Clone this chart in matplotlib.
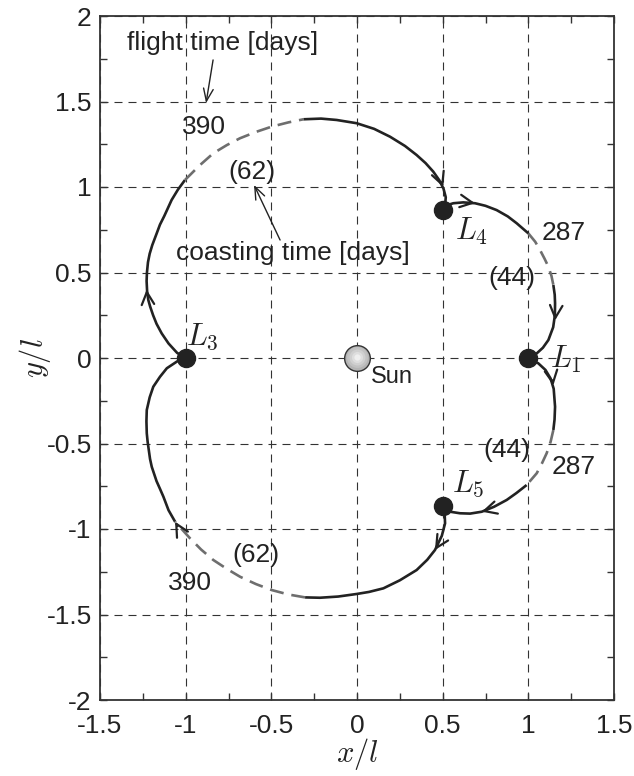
import numpy as np
import matplotlib
matplotlib.use('Agg')
import matplotlib.pyplot as plt

# ---------------- data ----------------
x_ticks = [-1.5, -1.0, -0.5, 0.0, 0.5, 1.0, 1.5]
x_tick_labels = ['-1.5', '-1', '-0.5', '0', '0.5', '1', '1.5']
y_ticks = [-2.0, -1.5, -1.0, -0.5, 0.0, 0.5, 1.0, 1.5, 2.0]
y_tick_labels = ['-2', '-1.5', '-1', '-0.5', '0', '0.5', '1', '1.5', '2']

lagrange_names = ['$L_1$', '$L_3$', '$L_4$', '$L_5$']
lagrange_x = [1.0, -1.0, 0.5, 0.5]
lagrange_y = [0.0, 0.0, np.sqrt(3) / 2, -np.sqrt(3) / 2]
lagrange_label_x = [1.125, -1.0, 0.572, 0.553]
lagrange_label_y = [-0.06, 0.075, 0.69, -0.785]

sun_xy = (0.0, 0.0)

# leg L3 -> L4 (thrust, coast, thrust)
legA_thrust1 = [(-1.0, 0.0), (-1.05, 0.03), (-1.10, 0.085), (-1.14, 0.144), (-1.17, 0.2),
                (-1.19, 0.25), (-1.207, 0.3), (-1.218, 0.339), (-1.225, 0.39), (-1.228, 0.45),
                (-1.226, 0.5), (-1.22, 0.56), (-1.21, 0.61), (-1.195, 0.66), (-1.169, 0.729),
                (-1.15, 0.78), (-1.125, 0.83), (-1.082, 0.924), (-1.045, 0.985), (-1.004, 1.041)]
legA_coast = [(-1.004, 1.041), (-0.92, 1.125), (-0.839, 1.197), (-0.76, 1.245), (-0.683, 1.285),
              (-0.59, 1.322), (-0.498, 1.353), (-0.40, 1.378), (-0.313, 1.396)]
legA_thrust2 = [(-0.313, 1.396), (-0.21, 1.40), (-0.119, 1.392), (-0.002, 1.373), (0.10, 1.34),
                (0.193, 1.294), (0.28, 1.24), (0.348, 1.187), (0.40, 1.14), (0.445, 1.09),
                (0.48, 1.04), (0.505, 0.99), (0.518, 0.94), (0.515, 0.90), (0.50, 0.866)]

# leg L4 -> L1
legB_thrust1 = [(0.5, 0.866), (0.53, 0.895), (0.562, 0.905), (0.62, 0.91), (0.689, 0.905),
                (0.75, 0.89), (0.815, 0.865), (0.88, 0.828), (0.932, 0.788), (1.0, 0.729)]
legB_coast = [(1.0, 0.729), (1.04, 0.68), (1.068, 0.632), (1.095, 0.58), (1.117, 0.534),
              (1.135, 0.48), (1.146, 0.427)]
legB_thrust2 = [(1.146, 0.427), (1.154, 0.37), (1.156, 0.32), (1.155, 0.25), (1.145, 0.18),
                (1.117, 0.105), (1.085, 0.06), (1.049, 0.027), (1.0, 0.0)]

# leg L1 -> L5
legC_thrust1 = [(1.0, 0.0), (1.058, -0.031), (1.10, -0.07), (1.13, -0.12), (1.148, -0.18),
                (1.156, -0.285), (1.153, -0.36), (1.146, -0.421)]
legC_coast = [(1.146, -0.421), (1.13, -0.49), (1.107, -0.557), (1.08, -0.615), (1.049, -0.674),
              (0.99, -0.743)]
legC_thrust2 = [(0.99, -0.743), (0.93, -0.79), (0.874, -0.830), (0.80, -0.87), (0.728, -0.899),
                (0.66, -0.91), (0.601, -0.908), (0.55, -0.90), (0.5, -0.866)]

# leg L5 -> L3
legD_thrust1 = [(0.5, -0.866), (0.512, -0.92), (0.514, -0.967), (0.495, -1.04), (0.455, -1.123),
                (0.41, -1.18), (0.348, -1.240), (0.25, -1.30), (0.154, -1.347), (0.07, -1.368),
                (-0.002, -1.380), (-0.11, -1.395), (-0.216, -1.402), (-0.303, -1.40)]
legD_coast = [(-0.303, -1.40), (-0.40, -1.383), (-0.498, -1.357), (-0.59, -1.322), (-0.683, -1.279),
              (-0.76, -1.233), (-0.839, -1.181), (-0.91, -1.12), (-0.975, -1.054), (-1.062, -0.957)]
legD_thrust2 = [(-1.062, -0.957), (-1.10, -0.89), (-1.13, -0.811), (-1.15, -0.765), (-1.17, -0.72),
                (-1.198, -0.636), (-1.208, -0.59), (-1.215, -0.54), (-1.222, -0.49), (-1.227, -0.44),
                (-1.229, -0.37), (-1.227, -0.304), (-1.21, -0.23), (-1.189, -0.168), (-1.15, -0.11),
                (-1.11, -0.06), (-1.05, -0.02), (-1.0, 0.0)]

thrust_arcs = [legA_thrust1, legA_thrust2, legB_thrust1, legB_thrust2,
               legC_thrust1, legC_thrust2, legD_thrust1, legD_thrust2]
coast_arcs = [legA_coast, legB_coast, legC_coast, legD_coast]

# direction arrows: (arc, point on arc)
arrow_marks = [(legA_thrust1, (-1.228, 0.40)), (legA_thrust2, (0.503, 1.0)),
               (legB_thrust1, (0.689, 0.905)), (legB_thrust2, (1.156, 0.22)),
               (legC_thrust1, (1.146, -0.16)), (legC_thrust2, (0.728, -0.899)),
               (legD_thrust1, (0.455, -1.123)), (legD_thrust2, (-1.062, -0.957))]

flight_times = ['390', '287', '287', '390']
flight_time_x = [-0.893, 1.204, 1.263, -0.975]
flight_time_y = [1.353, 0.729, -0.636, -1.317]
coast_times = ['(62)', '(44)', '(44)', '(62)']
coast_time_x = [-0.611, 0.903, 0.874, -0.591]
coast_time_y = [1.09, 0.466, -0.538, -1.152]

note_texts = ['flight time [days]', 'coasting time [days]']
note_x = [-0.785, -0.372]
note_y = [1.842, 0.612]
note_tail_x = [-0.84, -0.449]
note_tail_y = [1.743, 0.69]
note_tip_x = [-0.881, -0.601]
note_tip_y = [1.491, 1.012]

# ---------------- style ----------------
plt.rcParams['font.family'] = ['Liberation Sans', 'DejaVu Sans']
plt.rcParams['mathtext.fontset'] = 'cm'
plt.rcParams['axes.unicode_minus'] = False

dark = '#222222'
fig = plt.figure(figsize=(6.34, 7.76), dpi=100)
ax = fig.add_axes([100 / 634, 76 / 776, 514 / 634, 684 / 776])

ax.set_xlim(-1.5, 1.5)
ax.set_ylim(-2, 2)
ax.set_xticks(x_ticks)
ax.set_xticklabels(x_tick_labels)
ax.set_yticks(y_ticks)
ax.set_yticklabels(y_tick_labels)
ax.set_xticks(np.arange(-1.5, 1.51, 0.25), minor=True)
ax.set_yticks(np.arange(-2, 2.01, 0.25), minor=True)
ax.tick_params(which='both', direction='in', top=True, right=True, length=5,
               width=1.0, color='#333333', labelsize=19, labelcolor=dark)
ax.tick_params(axis='x', which='major', pad=10)
ax.tick_params(axis='y', which='major', pad=6)
ax.grid(True, which='major', linestyle=(0, (7.2, 5.4)), color='0.2', linewidth=0.8)
ax.set_axisbelow(True)
for s in ax.spines.values():
    s.set_linewidth(1.3)
    s.set_color('#333333')

ax.set_xlabel('$x/l$', fontsize=22, labelpad=-1, color=dark)
ax.set_ylabel('$y/l$', fontsize=22, labelpad=-5, color=dark)

# trajectories
for arc in thrust_arcs:
    a = np.array(arc)
    ax.plot(a[:, 0], a[:, 1], color=dark, lw=1.9, solid_capstyle='butt',
            solid_joinstyle='round', zorder=3)
for arc in coast_arcs:
    a = np.array(arc)
    ax.plot(a[:, 0], a[:, 1], color='#6e6e6e', lw=1.9, linestyle=(0, (5.3, 3.0)), zorder=3)

# direction arrows
for arc, (px, py) in arrow_marks:
    a = np.array(arc)
    i = int(np.argmin((a[:, 0] - px) ** 2 + (a[:, 1] - py) ** 2))
    i0, i1 = max(i - 1, 0), min(i + 1, len(a) - 1)
    d = a[i1] - a[i0]
    d = d / np.hypot(*d)
    ax.annotate('', xy=(px, py), xytext=(px - 0.03 * d[0], py - 0.03 * d[1]),
                arrowprops=dict(arrowstyle='->,head_length=0.9,head_width=0.45',
                                color=dark, lw=1.6, shrinkA=0, shrinkB=0), zorder=4)

# Lagrange points
ax.plot(lagrange_x, lagrange_y, 'o', color=dark, markersize=13, zorder=5)
for name, lx, ly in zip(lagrange_names, lagrange_label_x, lagrange_label_y):
    ax.text(lx, ly, name, fontsize=22, ha='left', va='baseline', color=dark, zorder=6)

# Sun with a soft gradient
ax.plot(*sun_xy, 'o', markersize=18.5, markerfacecolor='#b4b4b4', markeredgecolor='#333333',
        markeredgewidth=1.0, zorder=5)
for ms, c in zip([15, 11.5, 8, 4.5], ['#c2c2c2', '#d0d0d0', '#dedede', '#efefef']):
    ax.plot(sun_xy[0], sun_xy[1] + 0.004, 'o', markersize=ms, color=c, markeredgewidth=0, zorder=5)
ax.text(0.206, -0.109, 'Sun', fontsize=17, ha='center', va='center', color=dark, zorder=6)

# times
for t, tx, ty in zip(flight_times, flight_time_x, flight_time_y):
    ax.text(tx, ty, t, fontsize=19, ha='center', va='center', color=dark, zorder=6)
for t, tx, ty in zip(coast_times, coast_time_x, coast_time_y):
    ax.text(tx, ty, t, fontsize=19, ha='center', va='center', color=dark, zorder=6)

# explanatory notes with pointers
for t, tx, ty, ax0, ay0, ax1, ay1 in zip(note_texts, note_x, note_y, note_tail_x, note_tail_y,
                                          note_tip_x, note_tip_y):
    ax.text(tx, ty, t, fontsize=19, ha='center', va='center', color=dark, zorder=6)
    ax.annotate('', xy=(ax1, ay1), xytext=(ax0, ay0),
                arrowprops=dict(arrowstyle='->,head_length=0.9,head_width=0.35', color=dark,
                                lw=1.0, shrinkA=0, shrinkB=0), zorder=6)

fig.savefig('out.png', dpi=100)
